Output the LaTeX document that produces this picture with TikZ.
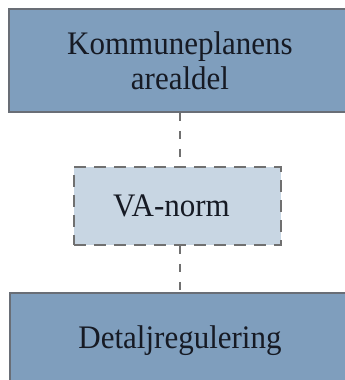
\documentclass[tikz,border=0pt]{standalone}
\usepackage{fontspec}
\setmainfont{Liberation Serif}
\definecolor{planfill}{RGB}{127,158,189}
\definecolor{planedge}{RGB}{105,110,118}
\definecolor{normfill}{RGB}{200,214,227}
\definecolor{dashgray}{RGB}{112,112,112}
\definecolor{inktext}{RGB}{22,26,36}
% slightly taller lettering
\newcommand{\tallword}[1]{\scalebox{1}[1.06]{#1}}
\tikzset{
  planbox/.style={draw=planedge, line width=1.6pt, fill=planfill, inner sep=0pt,
    font=\fontsize{31}{35}\selectfont, align=center, text=inktext},
  normbox/.style={draw=dashgray, line width=1.6pt, fill=normfill, inner sep=0pt,
    dash pattern=on 12pt off 8pt, font=\fontsize{31}{35}\selectfont, text=inktext},
  link/.style={draw=dashgray, line width=2pt, dash pattern=on 8pt off 10pt}
}
\begin{document}
\begin{tikzpicture}[x=1pt,y=1pt]
  \useasboundingbox (0,0) rectangle (345,380);
  \clip (0,0) rectangle (345,380);
  \fill[white] (0,0) rectangle (345,380);
  % framework levels
  \node[planbox, minimum width=342pt, minimum height=103pt] (kom) at (180,319.5)
    {\tallword{Kommuneplanens}\\\tallword{arealdel}};
  \node[planbox, minimum width=340pt, minimum height=96pt] (det) at (180,39.2)
    {\tallword{Detaljregulering}};
  % dashed links through the norm
  \node[normbox, minimum width=207pt, minimum height=78pt] (va) at (177.5,174)
    {\hspace*{-12pt}\tallword{VA-norm}};
  \draw[link] (kom.south -| 180,0) -- (va.north -| 180,0);
  \draw[link] (va.south -| 180,0) -- (det.north -| 180,0);
\end{tikzpicture}
\end{document}
